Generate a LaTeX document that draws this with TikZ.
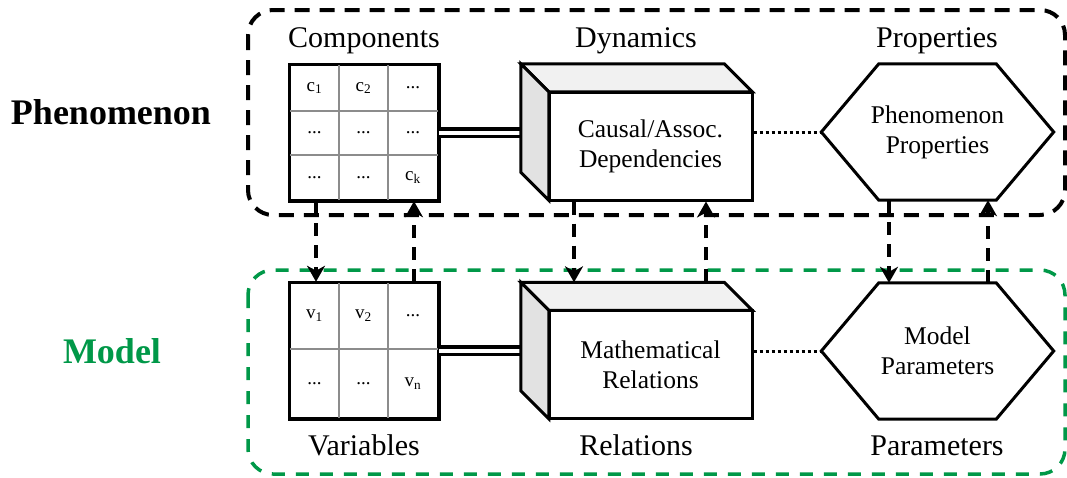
\documentclass[tikz,border=0pt]{standalone}
\usepackage{fontspec}
\setmainfont{Liberation Serif}
\usetikzlibrary{arrows.meta}
\definecolor{mgreen}{RGB}{0,152,72}
\definecolor{topface}{RGB}{241,241,241}
\definecolor{sideface}{RGB}{226,226,226}
\definecolor{gridgray}{RGB}{140,140,140}
\tikzset{
  phenbox/.style={draw=black, line width=4pt, dash pattern=on 15pt off 10pt, rounded corners=25pt},
  modelbox/.style={draw=mgreen, line width=3.5pt, dash pattern=on 13pt off 11pt, rounded corners=25pt},
  gridbox/.style={draw=black, line width=2.5pt, fill=none, minimum width=148pt, minimum height=135pt, inner sep=0pt},
  gridline/.style={draw=gridgray, line width=2pt},
  cell/.style={font=\fontsize{19}{22}\selectfont, inner sep=0pt},
  front/.style={draw=black, line width=3pt, fill=white, minimum width=203pt, minimum height=108pt, inner sep=0pt, align=center, font=\fontsize{25.5}{30}\selectfont},
  back/.style={draw=none, minimum width=203pt, minimum height=108pt, inner sep=0pt},
  facetop/.style={draw=black, line width=3pt, fill=topface, line join=miter},
  faceside/.style={draw=black, line width=3pt, fill=sideface, line join=miter},
  hexnode/.style={draw=none, minimum width=232pt, minimum height=136pt, inner sep=0pt, align=center, font=\fontsize{25.5}{30}\selectfont},
  hexline/.style={draw=black, line width=3pt, line join=miter},
  lbl/.style={font=\fontsize{30}{34}\selectfont, anchor=base, inner sep=0pt},
  biglbl/.style={font=\fontsize{36}{40}\selectfont\bfseries, anchor=base, inner sep=0pt},
  arr/.style={draw=black, line width=3.5pt, dash pattern=on 13pt off 9pt, -{Stealth[length=16pt, width=18pt, inset=5pt]}},
  dbl/.style={draw=black, double=white, double distance=4pt, line width=3.5pt},
  dots/.style={draw=black, line width=3pt, dash pattern=on 3pt off 3pt}
}
\begin{document}
\begin{tikzpicture}[x=1pt, y=-1pt]
\useasboundingbox[fill=white] (0,0) rectangle (1067,477);

% region boxes
\draw[phenbox] (248,10) rectangle (1065,215);
\draw[modelbox] (248,270) rectangle (1065,474);

% side labels
\node[biglbl] (lphen) at (111,124) {Phenomenon};
\node[biglbl, text=mgreen] (lmodel) at (112,363) {Model};

% column labels
\node[lbl] (lcomp) at (364,47) {Components};
\node[lbl] (ldyn) at (636,47) {Dynamics};
\node[lbl] (lprop) at (937,47) {Properties};
\node[lbl] (lvar) at (364,455) {Variables};
\node[lbl] (lrel) at (636,455) {Relations};
\node[lbl] (lpar) at (937,455) {Parameters};

% ---------- Components grid ----------
\node[gridbox] (comp) at (364,132.5) {};
\draw[gridline] (339,65) -- (339,200);
\draw[gridline] (388,65) -- (388,200);
\draw[gridline] (290,111) -- (438,111);
\draw[gridline] (290,155) -- (438,155);
\draw[black, line width=2.5pt] (comp.north west) rectangle (comp.south east);
\node[cell] (c11) at (314.5,88) {c\textsubscript{1}};
\node[cell] (c12) at (363.5,88) {c\textsubscript{2}};
\node[cell] (c13) at (413,88) {...};
\node[cell] (c21) at (314.5,133) {...};
\node[cell] (c22) at (363.5,133) {...};
\node[cell] (c23) at (413,133) {...};
\node[cell] (c31) at (314.5,177.5) {...};
\node[cell] (c32) at (363.5,177.5) {...};
\node[cell] (c33) at (413,177.5) {c\textsubscript{k}};

% ---------- Variables grid ----------
\node[gridbox] (var) at (364,350.5) {};
\draw[gridline] (339,283) -- (339,418);
\draw[gridline] (388,283) -- (388,418);
\draw[gridline] (290,349) -- (438,349);
\draw[black, line width=2.5pt] (var.north west) rectangle (var.south east);
\node[cell] (v11) at (314.5,316) {v\textsubscript{1}};
\node[cell] (v12) at (363.5,316) {v\textsubscript{2}};
\node[cell] (v13) at (413,316) {...};
\node[cell] (v21) at (314.5,383.5) {...};
\node[cell] (v22) at (363.5,383.5) {...};
\node[cell] (v23) at (413,383.5) {v\textsubscript{n}};

% ---------- Dynamics cuboid ----------
\node[back] (dynB) at (622.5,118) {};
\node[back] (dynBx) at (650.5,146) {};
\draw[dbl] (comp.east) -- (comp.east -| dynB.west);
\draw[facetop] (dynB.north west) -- (dynB.north east) -- (dynBx.north east) -- (dynBx.north west) -- cycle;
\draw[faceside] (dynB.north west) -- (dynBx.north west) -- (dynBx.south west) -- (dynB.south west) -- cycle;
\node[front] (dynF) at (650.5,146) {Causal/Assoc.\\Dependencies};

% ---------- Relations cuboid ----------
\node[back] (relB) at (622.5,336.5) {};
\node[back] (relBx) at (650.5,364.5) {};
\draw[dbl] (var.east) -- (var.east -| relB.west);
\draw[facetop] (relB.north west) -- (relB.north east) -- (relBx.north east) -- (relBx.north west) -- cycle;
\draw[faceside] (relB.north west) -- (relBx.north west) -- (relBx.south west) -- (relB.south west) -- cycle;
\node[front] (relF) at (650.5,364.5) {Mathematical\\Relations};

% ---------- Hexagons ----------
\node[hexnode] (prop) at (937.5,132) {Phenomenon\\Properties};
\draw[hexline] (prop.west) -- ([xshift=57.5pt]prop.north west) -- ([xshift=-57.5pt]prop.north east) -- (prop.east) -- ([xshift=-57.5pt]prop.south east) -- ([xshift=57.5pt]prop.south west) -- cycle;
\node[hexnode] (par) at (937.5,351) {Model\\Parameters};
\draw[hexline] (par.west) -- ([xshift=57.5pt]par.north west) -- ([xshift=-57.5pt]par.north east) -- (par.east) -- ([xshift=-57.5pt]par.south east) -- ([xshift=57.5pt]par.south west) -- cycle;

% dotted links
\draw[dots] (dynF.east |- prop.west) -- (prop.west);
\draw[dots] (relF.east |- par.west) -- (par.west);

% ---------- vertical dashed arrows ----------
\draw[arr] ([xshift=-48pt]comp.south) -- ([xshift=-48pt]var.north);
\draw[arr] ([xshift=50pt]var.north) -- ([xshift=50pt]comp.south);
\draw[arr] ([xshift=-76.5pt]dynF.south) -- ([xshift=-48.5pt]relB.north);
\draw[arr] ([xshift=83.5pt]relB.north) -- ([xshift=55.5pt]dynF.south);
\draw[arr] ([xshift=-48.5pt]prop.south) -- ([xshift=-48.5pt]par.north);
\draw[arr] ([xshift=50.5pt]par.north) -- ([xshift=50.5pt]prop.south);
\end{tikzpicture}
\end{document}
